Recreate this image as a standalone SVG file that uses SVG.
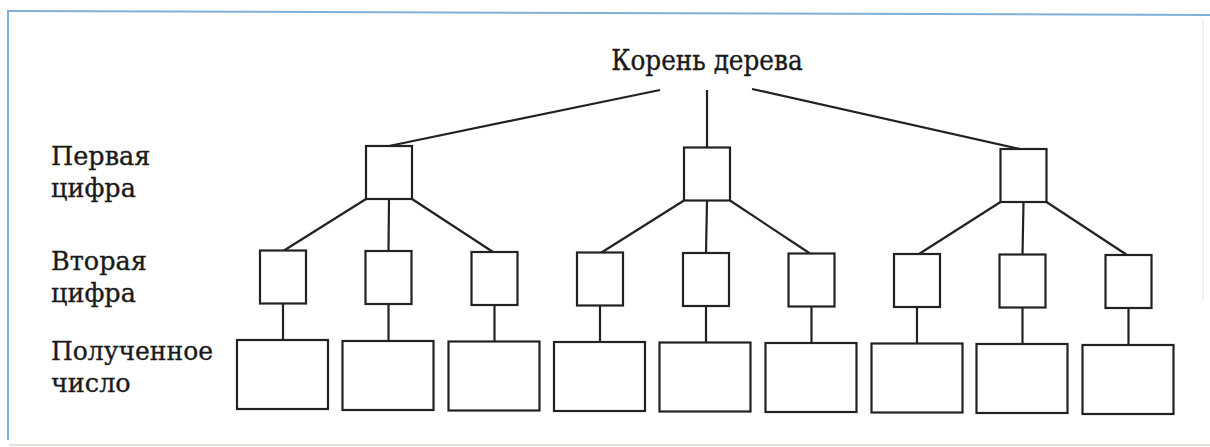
<svg xmlns="http://www.w3.org/2000/svg" width="1210" height="447" viewBox="0 0 1210 447">
<style>
.box{fill:#fff;stroke:#222;stroke-width:2.2}
.edge{stroke:#222;stroke-width:2.2;fill:none}
.lbl{font-family:"DejaVu Serif","Liberation Serif",serif;font-size:25.5px;fill:#1a1a1a;stroke:#1a1a1a;stroke-width:0.35}
.root{font-family:"DejaVu Serif Condensed","DejaVu Serif","Liberation Serif",serif;font-stretch:condensed;font-size:27.5px;fill:#1a1a1a;stroke:#1a1a1a;stroke-width:0.35}
.frame{stroke:#7fb0d8;stroke-width:2;fill:none}
</style>
<rect width="1210" height="447" fill="#fff"/>
<g id="frame">
<line class="frame" x1="7" y1="11" x2="1210" y2="15"/>
<line class="frame" x1="8" y1="11" x2="8" y2="440"/>
<line x1="9" y1="445" x2="1210" y2="445" stroke="#e4e0dc" stroke-width="2"/>
<line x1="1203" y1="20" x2="1203" y2="300" stroke="#eeeeee" stroke-width="1.5"/>
</g>
<g id="labels">
<text class="root" x="707" y="70" text-anchor="middle">Корень дерева</text>
<text class="lbl" x="51" y="165">Первая</text>
<text class="lbl" x="51" y="197">цифра</text>
<text class="lbl" x="51" y="270">Вторая</text>
<text class="lbl" x="51" y="302">цифра</text>
<text class="lbl" x="51" y="360" textLength="162" lengthAdjust="spacingAndGlyphs">Полученное</text>
<text class="lbl" x="51" y="392">число</text>
</g>
<g id="connectors">
<line class="edge" x1="660" y1="90" x2="389" y2="146"/>
<line class="edge" x1="707" y1="90" x2="707" y2="147.5"/>
<line class="edge" x1="752" y1="89" x2="1020" y2="149"/>
<line class="edge" x1="366" y1="199" x2="284" y2="250.5"/>
<line class="edge" x1="389" y1="199" x2="388.5" y2="251"/>
<line class="edge" x1="412" y1="199" x2="493" y2="252"/>
<line class="edge" x1="684" y1="200.5" x2="601.5" y2="252.5"/>
<line class="edge" x1="707" y1="200.5" x2="706" y2="253"/>
<line class="edge" x1="730" y1="200.5" x2="810" y2="253.5"/>
<line class="edge" x1="1000.5" y1="202" x2="919" y2="254"/>
<line class="edge" x1="1023.5" y1="202" x2="1022.5" y2="254.5"/>
<line class="edge" x1="1046.5" y1="202" x2="1127" y2="255"/>
<line class="edge" x1="283" y1="303.5" x2="283" y2="340"/>
<line class="edge" x1="388.5" y1="304" x2="388.5" y2="341"/>
<line class="edge" x1="494.5" y1="305" x2="494.5" y2="341.5"/>
<line class="edge" x1="600" y1="305.5" x2="600" y2="342"/>
<line class="edge" x1="706" y1="306" x2="706" y2="342.5"/>
<line class="edge" x1="811.5" y1="306.5" x2="811.5" y2="343"/>
<line class="edge" x1="917" y1="307" x2="917" y2="343.5"/>
<line class="edge" x1="1022.5" y1="307.5" x2="1022.5" y2="344"/>
<line class="edge" x1="1128.5" y1="308" x2="1128.5" y2="345"/>
</g>
<g id="t1"><rect class="box" x="366" y="146" width="46" height="53"/></g>
<g id="t2"><rect class="box" x="684" y="147.5" width="46" height="53"/></g>
<g id="t3"><rect class="box" x="1000.5" y="149" width="46" height="53"/></g>
<g id="s1"><rect class="box" x="260" y="250.5" width="46" height="53"/></g>
<g id="s2"><rect class="box" x="365.5" y="251" width="46" height="53"/></g>
<g id="s3"><rect class="box" x="471.5" y="252" width="46" height="53"/></g>
<g id="s4"><rect class="box" x="577" y="252.5" width="46" height="53"/></g>
<g id="s5"><rect class="box" x="683" y="253" width="46" height="53"/></g>
<g id="s6"><rect class="box" x="788.5" y="253.5" width="46" height="53"/></g>
<g id="s7"><rect class="box" x="894" y="254" width="46" height="53"/></g>
<g id="s8"><rect class="box" x="999.5" y="254.5" width="46" height="53"/></g>
<g id="s9"><rect class="box" x="1105.5" y="255" width="46" height="53"/></g>
<g id="b1"><rect class="box" x="237" y="340" width="91" height="69"/></g>
<g id="b2"><rect class="box" x="342.5" y="341" width="91" height="69"/></g>
<g id="b3"><rect class="box" x="448.5" y="341.5" width="91" height="69"/></g>
<g id="b4"><rect class="box" x="554" y="342" width="91" height="69"/></g>
<g id="b5"><rect class="box" x="659.5" y="342.5" width="91" height="69"/></g>
<g id="b6"><rect class="box" x="765.5" y="343" width="91" height="69"/></g>
<g id="b7"><rect class="box" x="871.5" y="343.5" width="91" height="69"/></g>
<g id="b8"><rect class="box" x="976.5" y="344" width="91" height="69"/></g>
<g id="b9"><rect class="box" x="1082.5" y="345" width="91" height="69"/></g>
</svg>
